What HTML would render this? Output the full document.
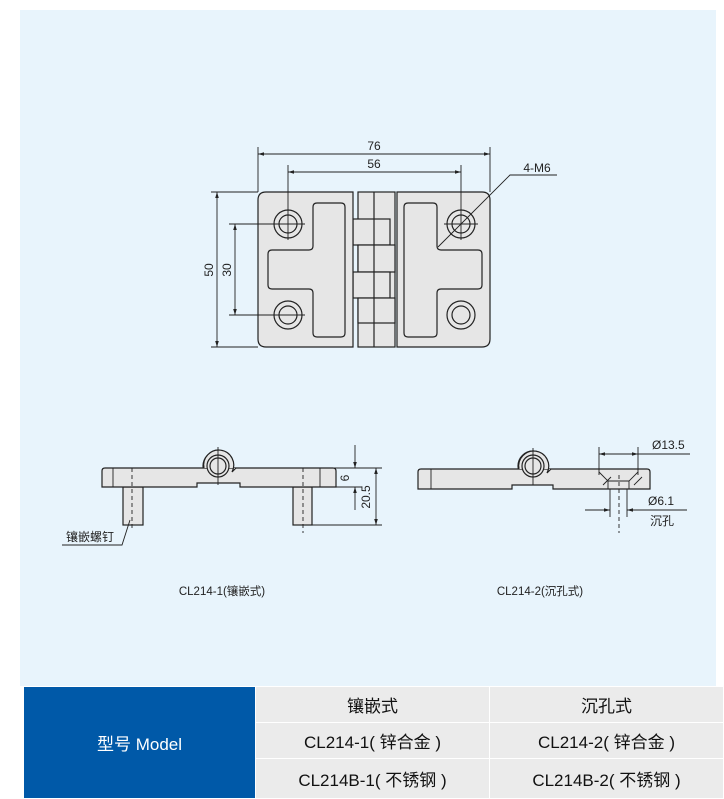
<!DOCTYPE html>
<html><head><meta charset="utf-8"><style>
body{margin:0;width:724px;height:798px;background:#fff;position:relative;overflow:hidden;font-family:"Liberation Sans","Noto Sans CJK SC",sans-serif}
.bg{position:absolute;left:20px;top:10px;width:696px;height:676px;background:#e8f4fc}
svg{position:absolute;left:0;top:0}
table{position:absolute;left:23px;top:686px;width:701px;height:112px;border-collapse:collapse;font-size:17px;color:#111}
td{background:#ebebeb;text-align:center;border:1px solid #fff;padding:0}
td.b{background:#0059a8;color:#fff;width:231px;font-size:17px}
</style></head><body>
<div class="bg"></div>
<svg width="724" height="798" viewBox="0 0 724 798" font-family="Liberation Sans, Noto Sans CJK SC, sans-serif" font-size="12" fill="none" stroke="#222" stroke-width="1.2">
<defs><marker id="a" viewBox="0 0 10 6" refX="10" refY="3" markerWidth="7" markerHeight="4" orient="auto-start-reverse"><path d="M0,0L10,3L0,6z" fill="#222" stroke="none"/></marker></defs>
<g fill="#e6e6e6">
<rect x="358" y="192" width="37" height="155"/>
<rect x="353" y="219" width="37" height="26"/>
<rect x="358" y="245" width="37" height="27"/>
<rect x="353" y="272" width="37" height="26"/>
<rect x="358" y="298" width="37" height="25"/>
<line x1="374" y1="192" x2="374" y2="347"/>
<path d="M266,192H353V347H266Q258,347 258,339V200Q258,192 266,192Z"/>
<path d="M397,192H482Q490,192 490,200V339Q490,347 482,347H397Z"/>
<path d="M317,203H341Q345,203 345,207V333Q345,337 341,337H317Q313,337 313,333V293Q313,289 309,289H272Q268,289 268,285V254Q268,250 272,250H309Q313,250 313,246V207Q313,203 317,203Z"/>
<path d="M408,203H433Q437,203 437,207V246Q437,250 441,250H478Q482,250 482,254V285Q482,289 478,289H441Q437,289 437,293V333Q437,337 433,337H408Q404,337 404,333V207Q404,203 408,203Z"/>
<circle cx="288" cy="224" r="14"/><circle cx="288" cy="224" r="9"/>
<circle cx="288" cy="315" r="14"/><circle cx="288" cy="315" r="9"/>
<circle cx="461" cy="224" r="14"/><circle cx="461" cy="224" r="9"/>
<circle cx="461" cy="315" r="14"/><circle cx="461" cy="315" r="9"/>
</g>
<g stroke-width="0.9">
<path d="M258,147V192M490,147V192M288,165V240M461,165V240M211,192H258M211,347H258M229,224H305M229,315H305M272,224H305M444,224H478" />
<line x1="258" y1="154" x2="490" y2="154" marker-start="url(#a)" marker-end="url(#a)"/>
<line x1="288" y1="172" x2="461" y2="172" marker-start="url(#a)" marker-end="url(#a)"/>
<line x1="217" y1="192" x2="217" y2="347" marker-start="url(#a)" marker-end="url(#a)"/>
<line x1="235" y1="224" x2="235" y2="315" marker-start="url(#a)" marker-end="url(#a)"/>
<path d="M438,247L510,175H557"/>
</g>
<g fill="#222" stroke="none">
<text x="374" y="150" text-anchor="middle">76</text>
<text x="374" y="168" text-anchor="middle">56</text>
<text x="537" y="172" text-anchor="middle">4-M6</text>
<text transform="translate(213,270) rotate(-90)" text-anchor="middle">50</text>
<text transform="translate(231,270) rotate(-90)" text-anchor="middle">30</text>
</g>
<g fill="#e6e6e6">
<rect x="123" y="487" width="20" height="38"/>
<rect x="293" y="487" width="19" height="38"/>
<circle cx="218" cy="466" r="15"/>
<path d="M105,468H333Q336,468 336,471V487H240V483H197V487H102V471Q102,468 105,468Z"/>
<path d="M204,468A15,15 0 1 1 232,472L236,468" />
<circle cx="218" cy="466" r="11"/><circle cx="218" cy="466" r="8"/>
</g>
<g stroke-width="0.9">
<path d="M113,468V487M320,468V487"/>
<path d="M132,468V530M303,468V533" stroke-dasharray="4,3"/>
<path d="M218,447V485M333,468H382M333,487H362M312,525H382"/>
<line x1="355" y1="445" x2="355" y2="468" marker-end="url(#a)"/>
<line x1="355" y1="510" x2="355" y2="487" marker-end="url(#a)"/>
<line x1="376" y1="468" x2="376" y2="525" marker-start="url(#a)" marker-end="url(#a)"/>
<path d="M62,545H122L130,520"/>
</g>
<g fill="#222" stroke="none">
<text transform="translate(349,478) rotate(-90)" text-anchor="middle">6</text>
<text transform="translate(370,497) rotate(-90)" text-anchor="middle">20.5</text>
<text x="66" y="541" font-size="12">镶嵌螺钉</text>
<text x="222" y="595" text-anchor="middle" font-size="11.5">CL214-1(镶嵌式)</text>
<text x="540" y="595" text-anchor="middle" font-size="11.5">CL214-2(沉孔式)</text>
</g>
<g fill="#e6e6e6">
<circle cx="533" cy="466" r="15"/>
<path d="M421,469H647Q650,469 650,472V489H553V485H512V489H418V472Q418,469 421,469Z"/>
<path d="M519,469A15,15 0 1 1 547,473L551,469"/>
<circle cx="533" cy="466" r="11"/><circle cx="533" cy="466" r="8"/>
</g>
<g stroke-width="0.9">
<path d="M431,469V489M599,472L608,481V489M638,472L629,481V489M608,481H629M603,485L611,477M634,485L642,477"/>
<path d="M619,475V533" stroke-dasharray="4,3"/>
<path d="M533,448V485M599,447V475M638,447V475M610,489V517M627,489V517M638,454H690M585,510H610M627,510H687"/>
<line x1="599" y1="454" x2="638" y2="454" marker-start="url(#a)" marker-end="url(#a)"/>
<line x1="592" y1="510" x2="610" y2="510" marker-end="url(#a)"/>
<line x1="645" y1="510" x2="627" y2="510" marker-end="url(#a)"/>
</g>
<g fill="#222" stroke="none">
<text x="652" y="449">Ø13.5</text>
<text x="648" y="505">Ø6.1</text>
<text x="650" y="525">沉孔</text>
</g>
</svg>
<table>
<tr style="height:36px"><td class="b" rowspan="3">型号 Model</td><td>镶嵌式</td><td>沉孔式</td></tr>
<tr style="height:36px"><td>CL214-1( 锌合金 )</td><td>CL214-2( 锌合金 )</td></tr>
<tr style="height:40px"><td>CL214B-1( 不锈钢 )</td><td>CL214B-2( 不锈钢 )</td></tr>
</table>
</body></html>
